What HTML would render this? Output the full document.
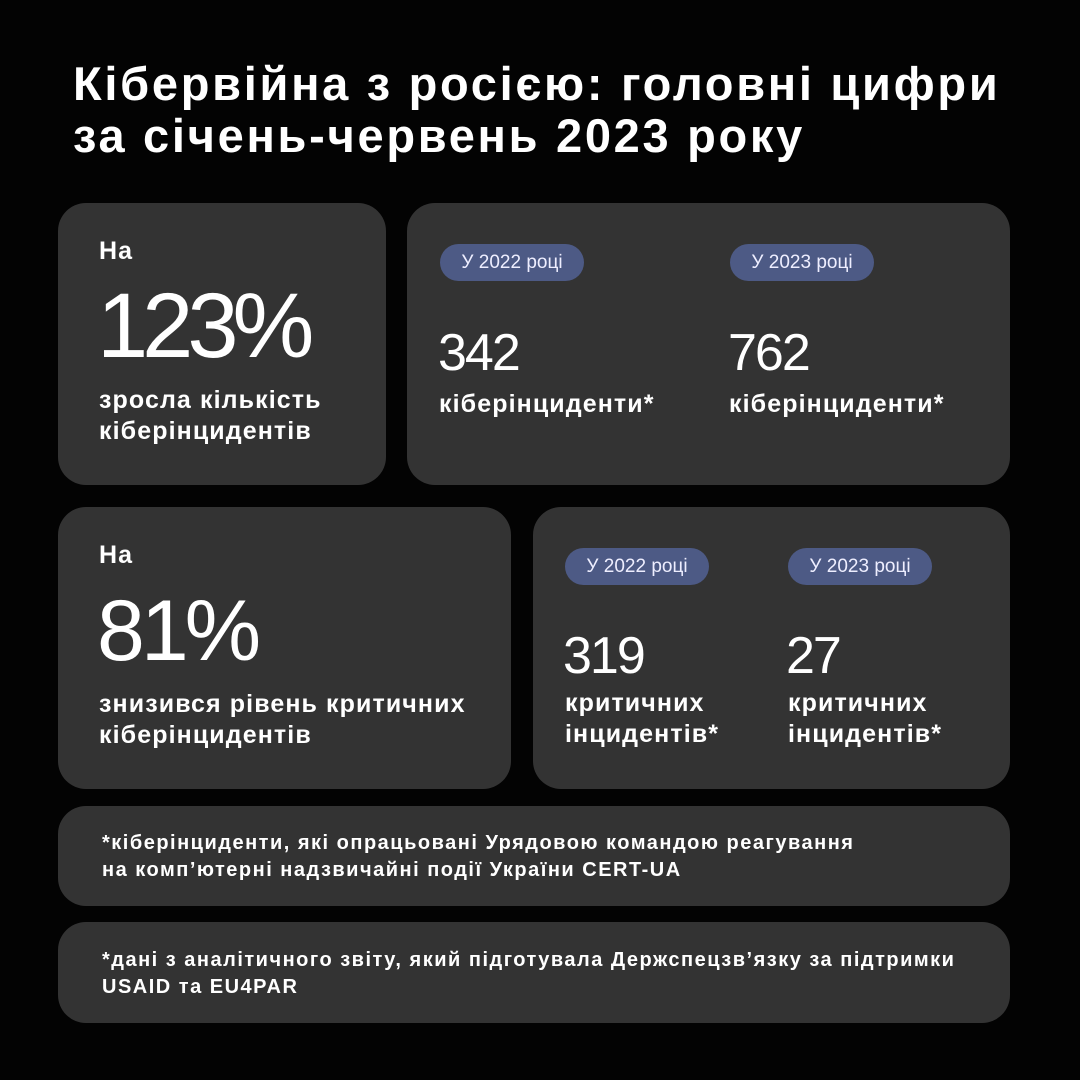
<!DOCTYPE html>
<html><head><meta charset="utf-8"><style>
body{margin:0;width:1080px;height:1080px;background:#030303;font-family:"Liberation Sans",sans-serif;color:#fff;position:relative;overflow:hidden}
.t{position:absolute;left:73px;top:58px;font-size:47px;line-height:52px;font-weight:bold;letter-spacing:2.7px}
.c{position:absolute;background:#333333;border-radius:28px}
.a{position:absolute;white-space:nowrap}
.p{position:absolute;background:#4d5a85;border-radius:19px;height:37px;width:144px;font-size:19px;line-height:37px;text-align:center;color:#eef}
.s{font-size:25px;line-height:31px;letter-spacing:1.1px;font-weight:bold}
.f{font-size:20px;line-height:27px;letter-spacing:1.5px;font-weight:bold}
</style></head><body>
<div class="t">Кібервійна з росією: головні цифри<br>за січень-червень 2023 року</div>

<div class="c" style="left:58px;top:203px;width:328px;height:282px"></div>
<div class="a s" style="left:99px;top:236px">На</div>
<div class="a" style="left:97px;top:278px;font-size:92px;line-height:96px;letter-spacing:-6px">123%</div>
<div class="a s" style="left:99px;top:385px">зросла кількість<br>кіберінцидентів</div>

<div class="c" style="left:407px;top:203px;width:603px;height:282px"></div>
<div class="p" style="left:440px;top:244px">У 2022 році</div>
<div class="p" style="left:730px;top:244px">У 2023 році</div>
<div class="a" style="left:438px;top:325px;font-size:52px;line-height:56px;letter-spacing:-2px">342</div>
<div class="a" style="left:728px;top:325px;font-size:52px;line-height:56px;letter-spacing:-2px">762</div>
<div class="a s" style="left:439px;top:389px">кіберінциденти*</div>
<div class="a s" style="left:729px;top:389px">кіберінциденти*</div>

<div class="c" style="left:58px;top:507px;width:453px;height:282px"></div>
<div class="a s" style="left:99px;top:540px">На</div>
<div class="a" style="left:97px;top:586px;font-size:86px;line-height:90px;letter-spacing:-4px">81%</div>
<div class="a s" style="left:99px;top:689px">знизився рівень критичних<br>кіберінцидентів</div>

<div class="c" style="left:533px;top:507px;width:477px;height:282px"></div>
<div class="p" style="left:565px;top:548px">У 2022 році</div>
<div class="p" style="left:788px;top:548px">У 2023 році</div>
<div class="a" style="left:563px;top:628px;font-size:52px;line-height:56px;letter-spacing:-2px">319</div>
<div class="a" style="left:786px;top:628px;font-size:52px;line-height:56px;letter-spacing:-2px">27</div>
<div class="a s" style="left:565px;top:688px">критичних<br>інцидентів*</div>
<div class="a s" style="left:788px;top:688px">критичних<br>інцидентів*</div>

<div class="c" style="left:58px;top:806px;width:952px;height:100px"></div>
<div class="a f" style="left:102px;top:830px">*кіберінциденти, які опрацьовані Урядовою командою реагування<br>на комп’ютерні надзвичайні події України CERT-UA</div>

<div class="c" style="left:58px;top:922px;width:952px;height:101px"></div>
<div class="a f" style="left:102px;top:947px">*дані з аналітичного звіту, який підготувала Держспецзв’язку за підтримки<br>USAID та EU4PAR</div>
</body></html>
